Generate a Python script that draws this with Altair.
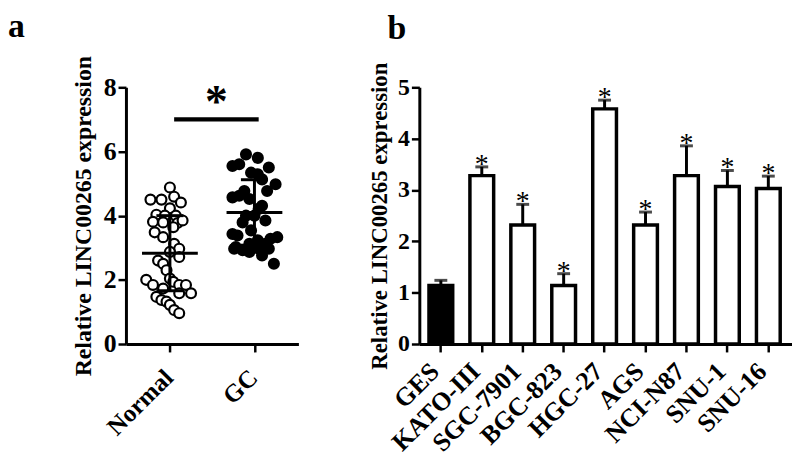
import altair as alt
import pandas as pd

FONT = "Liberation Serif"

# ---------------- Panel a data ----------------
groups = ["Normal", "GC"]
normal_vals = [4.88, 4.50, 4.50, 4.59, 4.41, 4.23, 4.03, 4.00, 4.00, 3.81, 3.79, 3.77, 3.85,
               3.64, 3.48, 3.33, 3.12, 2.97, 2.87, 2.71, 2.60, 2.50, 2.30, 2.04, 2.00, 1.84,
               1.94, 1.84, 1.84, 1.73, 1.58, 1.58, 1.47, 1.37, 1.32, 1.22, 1.06, 0.96]
normal_dx = [0.00, -0.23, -0.10, 0.05, 0.13, 0.00, -0.16, -0.06, 0.07, -0.20, -0.08, 0.09, 0.15,
             0.04, -0.18, -0.08, 0.05, 0.11, 0.00, 0.11, -0.14, -0.08, -0.04, 0.00, -0.28, -0.20,
             0.04, 0.11, 0.19, -0.08, 0.25, 0.11, -0.16, -0.10, -0.04, 0.00, 0.05, 0.11]
gc_vals = [5.91, 5.80, 5.60, 5.55, 5.50, 5.34, 5.29, 5.13, 4.98, 4.77, 4.77, 4.62, 4.57, 4.52,
           4.31, 4.21, 4.00, 4.00, 3.85, 3.79, 3.54, 3.43, 3.38, 3.33, 3.23, 3.12, 3.12, 3.02,
           2.92, 2.87, 2.97, 2.97, 2.76, 2.50, 2.97, 3.28]
gc_dx = [-0.10, 0.04, -0.18, -0.26, 0.17, -0.04, 0.04, 0.09, 0.25, 0.15, -0.12, -0.18, -0.26, -0.06,
         0.09, 0.05, -0.10, 0.00, 0.13, -0.14, -0.04, -0.26, -0.20, 0.27, 0.04, -0.06, 0.13, -0.22,
         -0.14, -0.06, 0.05, 0.17, 0.09, 0.23, -0.24, 0.19]
group_mean = [2.83, 4.10]
group_sd_hi = [4.00, 5.12]
group_sd_lo = [1.66, 3.08]
sig_level = 7.0
sig_mark = "*"

# ---------------- Panel b data ----------------
cells = ["GES", "KATO-III", "SGC-7901", "BGC-823", "HGC-27", "AGS", "NCI-N87", "SNU-1", "SNU-16"]
cell_mean = [1.14, 3.28, 2.32, 1.14, 4.58, 2.32, 3.28, 3.07, 3.03]
cell_err = [1.24, 3.45, 2.72, 1.37, 4.75, 2.57, 3.86, 3.38, 3.27]
cell_sig = ["", "*", "*", "*", "*", "*", "*", "*", "*"]
y_title = "Relative LINC00265 expression"

# ---------------- build tables ----------------
pts = pd.DataFrame({
    "group": [groups[0]] * len(normal_vals) + [groups[1]] * len(gc_vals),
    "gi": [1] * len(normal_vals) + [2] * len(gc_vals),
    "dx": normal_dx + gc_dx,
    "value": normal_vals + gc_vals,
})
stats = pd.DataFrame({"group": groups, "gi": [1, 2], "mean": group_mean,
                      "hi": group_sd_hi, "lo": group_sd_lo})
sig = pd.DataFrame({"g1": [1], "g2": [2], "y": [sig_level], "label": [sig_mark]})

bars = pd.DataFrame({"cell": cells, "mean": cell_mean, "err": cell_err, "sig": cell_sig})

label_expr = "datum.value == 1 ? '%s' : datum.value == 2 ? '%s' : ''" % (groups[0], groups[1])

xa = alt.X("pos:Q", scale=alt.Scale(domain=[0.48, 2.52], nice=False, zero=False),
           axis=alt.Axis(values=[1, 2], labelExpr=label_expr, labelAngle=-45, title=None,
                         labelFontSize=25, grid=False, labelOffset=-10, labelPadding=13))
ya = alt.Y("value:Q", scale=alt.Scale(domain=[0, 8], nice=False),
           axis=alt.Axis(values=[0, 2, 4, 6, 8], title=y_title, labelFontSize=26,
                         titleFontSize=24, titlePadding=8, grid=False))

base_pts = alt.Chart(pts).transform_calculate(pos="datum.gi + datum.dx")
points = base_pts.mark_point(shape="circle", size=100, strokeWidth=2.2, opacity=1,
                             stroke="black").encode(
    x=xa, y=ya,
    fill=alt.Fill("group:N", scale=alt.Scale(domain=groups, range=["white", "black"]),
                  legend=None),
)

st = alt.Chart(stats)
mean_line = st.transform_calculate(a="datum.gi - 0.33", b="datum.gi + 0.33").mark_rule(
    strokeWidth=3, color="black").encode(x="a:Q", x2="b:Q", y="mean:Q")
sd_vert = st.mark_rule(strokeWidth=3, color="black").encode(
    x=alt.X("gi:Q"), y="lo:Q", y2="hi:Q")
cap_hi = st.transform_calculate(a="datum.gi - 0.16", b="datum.gi + 0.16").mark_rule(
    strokeWidth=3, color="black").encode(x="a:Q", x2="b:Q", y="hi:Q")
cap_lo = st.transform_calculate(a="datum.gi - 0.16", b="datum.gi + 0.16").mark_rule(
    strokeWidth=3, color="black").encode(x="a:Q", x2="b:Q", y="lo:Q")

sg = alt.Chart(sig).transform_calculate(a="datum.g1 + 0.05", b="datum.g2 + 0.05",
                                        m="(datum.g1 + datum.g2) / 2 + 0.05")
sig_bar = sg.mark_rule(strokeWidth=4.5, color="black").encode(x="a:Q", x2="b:Q", y="y:Q")
sig_txt = sg.mark_text(font=FONT, fontWeight="bold", fontSize=46, baseline="alphabetic",
                       dy=-2, color="black", fill="black").encode(x="m:Q", y="y:Q", text="label:N")

panel_a = alt.layer(points, mean_line, sd_vert, cap_hi, cap_lo, sig_bar, sig_txt).properties(
    width=174, height=259,
    title=alt.TitleParams("a", anchor="start", frame="group", fontSize=34, font=FONT,
                          fontWeight="bold", dx=-119, offset=11, color="black"),
)

# ---------------- panel b ----------------
xb = alt.X("cell:N", sort=cells,
           scale=alt.Scale(paddingInner=0.42, paddingOuter=0.262, align=0.45),
           axis=alt.Axis(labelAngle=-45, title=None, labelFontSize=26, labelOverlap=False,
                         labelOffset=-15, labelPadding=6))
yb = alt.Y("mean:Q", scale=alt.Scale(domain=[0, 5], nice=False),
           axis=alt.Axis(values=[0, 1, 2, 3, 4, 5], title=y_title, labelFontSize=24,
                         titleFontSize=23, titlePadding=6, grid=False))

bb = alt.Chart(bars)
bar_marks = bb.mark_bar(stroke="black", strokeWidth=3.5).encode(
    x=xb, y=yb,
    fill=alt.condition(alt.datum.cell == cells[0], alt.value("black"), alt.value("white")),
)
err_rule = bb.mark_rule(strokeWidth=3, color="black").encode(
    x=alt.X("cell:N", sort=cells), y="mean:Q", y2="err:Q")
err_cap = bb.mark_tick(size=13, thickness=3, color="black").encode(
    x=alt.X("cell:N", sort=cells), y="err:Q")
star = bb.mark_text(font=FONT, fontSize=28, baseline="alphabetic", dy=6, color="black",
                    fill="black").encode(
    x=alt.X("cell:N", sort=cells), y="err:Q", text="sig:N")

panel_b = alt.layer(bar_marks, err_rule, err_cap, star).properties(
    width=376, height=259,
    title=alt.TitleParams("b", anchor="start", frame="group", fontSize=34, font=FONT,
                          fontWeight="bold", dx=-32, offset=16, color="black"),
)

chart = alt.hconcat(panel_a, panel_b, spacing=70).properties(
    padding={"left": 0, "top": 0, "right": 0, "bottom": 0}
).configure_view(stroke=None).configure_axis(
    domainColor="black", domainWidth=3, tickColor="black", tickWidth=2.5, tickSize=8,
    labelFont=FONT, labelFontWeight="bold", labelColor="black", labelPadding=2,
    titleFont=FONT, titleFontWeight="bold", titleColor="black",
)

chart.save("out.html", embed_options={"renderer": "svg", "actions": False})
